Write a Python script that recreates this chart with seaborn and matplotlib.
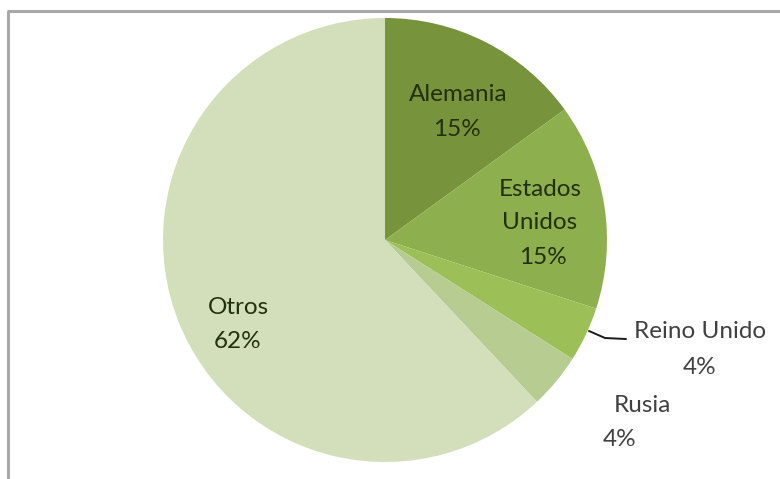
import matplotlib
matplotlib.use("Agg")
import matplotlib.pyplot as plt
import seaborn as sns

sns.set_theme(style="white")
plt.rcParams["font.family"] = ["Lato", "DejaVu Sans"]

paises = ["Alemania", "Estados\nUnidos", "Reino Unido", "Rusia", "Otros"]
porcentajes = [15, 15, 4, 4, 62]
colores = ["#77933C", "#8DAF4E", "#9CC057", "#B7CC90", "#D2DFBA"]

W, H = 780, 479
fig = plt.figure(figsize=(W / 100, H / 100), dpi=100)
ax = fig.add_axes([0, 0, 1, 1])

cx, cy, r = 385, H - 240, 222
ax.pie(porcentajes, colors=colores, startangle=90, counterclock=False,
       center=(cx, cy), radius=r, frame=True,
       wedgeprops=dict(linewidth=0))
ax.set_xlim(0, W)
ax.set_ylim(0, H)
ax.axis("off")

# label positions in pixel space (x, y from top): name block, value line
pos_nombre = {
    "Alemania": (458, 94),
    "Estados\nUnidos": (540, 206),
    "Reino Unido": (700, 332),
    "Rusia": (642, 405),
    "Otros": (238, 307),
}
pos_valor = {
    "Alemania": (457, 129),
    "Estados\nUnidos": (543, 258),
    "Reino Unido": (700, 367),
    "Rusia": (620, 440),
    "Otros": (238, 341),
}
interior = {"Alemania", "Estados\nUnidos", "Otros"}
for nombre, v in zip(paises, porcentajes):
    col = "#22300F" if nombre in interior else "#404040"
    x, y = pos_nombre[nombre]
    ax.text(x, H - y, nombre, ha="center", va="center",
            fontsize=17.5, color=col, linespacing=1.75)
    x, y = pos_valor[nombre]
    ax.text(x, H - y, f"{v}%", ha="center", va="center",
            fontsize=17.5, color=col)

# leader line for Reino Unido
ax.plot([589, 605, 626], [H - 331, H - 338, H - 339], color="#1a1a1a", lw=1.4)

# outer frame (top and left edges)
ax.plot([7, W], [H - 11, H - 11], color="#A8A8A8", lw=2.2, solid_capstyle="butt")
ax.plot([8, 8], [H - 11, 0], color="#A8A8A8", lw=2.2, solid_capstyle="butt")

fig.savefig("out.png", dpi=100)
